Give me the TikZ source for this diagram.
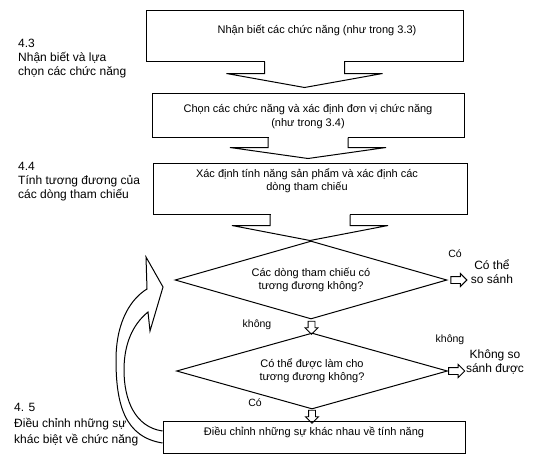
\documentclass[tikz,border=0pt]{standalone}
\usepackage{fontspec}
\setmainfont{Liberation Sans}
\usetikzlibrary{positioning,shapes.geometric,shapes.arrows}

\begin{document}
\begin{tikzpicture}[x=1pt, y=-1pt,
    box/.style={rectangle, draw, line width=1pt, inner sep=0pt},
    dia/.style={diamond, draw, line width=1pt, aspect=3.5, inner sep=1pt, align=center, font=\fontsize{11}{13}\selectfont},
    txt/.style={align=center, inner sep=0pt, font=\fontsize{11}{13.5}\selectfont},
    side/.style={align=left, inner sep=0pt, anchor=west, font=\fontsize{12}{14}\selectfont},
    lbl/.style={inner sep=0pt, font=\fontsize{10.5}{12}\selectfont},
    outcome/.style={align=center, inner xsep=4pt, inner ysep=0pt, font=\fontsize{12}{14}\selectfont},
    hollow/.style={single arrow, draw, line width=0.9pt, inner sep=3pt, single arrow head extend=3pt, minimum height=13pt}]
    \useasboundingbox (0,0) rectangle (554,455);

    % boxes and decisions
    \node[box, minimum width=317pt, minimum height=51pt] (box1) at (304.5,35.5) {};
    \node[box, minimum width=312pt, minimum height=44pt, below=31pt of box1, xshift=3.5pt] (box2) {};
    \node[box, minimum width=314pt, minimum height=51pt, below=25pt of box2, xshift=2pt] (box3) {};
    \node[dia, minimum width=272pt, minimum height=78pt, below=26pt of box3, xshift=1pt] (dia1) {Các dòng tham chiếu có\\tương đương không?};
    \node[dia, minimum width=271pt, minimum height=76pt, below=13pt of dia1, xshift=1pt] (dia2) {Có thể được làm cho\\tương đương không?};
    \node[box, minimum width=302pt, minimum height=32pt, below=11pt of dia2, xshift=2pt] (box4) {};

    \node[txt] (t1) at ([xshift=12.5pt,yshift=5.5pt]box1.center) {Nhận biết các chức năng (như trong 3.3)};
    \node[txt] (t2) at ([yshift=-1.5pt]box2.center) {Chọn các chức năng và xác định đơn vị chức năng\\(như trong 3.4)};
    \node[txt] (t3) at ([xshift=-3pt,yshift=8pt]box3.center) {Xác định tính năng sản phẩm và xác định các\\dòng tham chiếu};
    \node[txt] (t4) at ([yshift=5pt]box4.center) {Điều chỉnh những sự khác nhau về tính năng};

    % block arrows under the boxes
    \fill[white] (box1.south) ++(-39.5pt,0.6pt) rectangle ++(79pt,-3pt);
    \draw[line width=1pt] (box1.south) ++(-40pt,0pt) -- ++(0pt,-12pt) -- ++(-38pt,0pt) -- ++(78pt,-14pt) -- ++(78pt,14pt) -- ++(-38pt,0pt) -- ++(0pt,12pt);
    \fill[white] (box2.south) ++(-39.5pt,0.6pt) rectangle ++(79pt,-3pt);
    \draw[line width=1pt] (box2.south) ++(-40pt,0pt) -- ++(0pt,-10pt) -- ++(-38pt,0pt) -- ++(78pt,-11pt) -- ++(78pt,11pt) -- ++(-38pt,0pt) -- ++(0pt,10pt);
    \fill[white] (box3.south) ++(-39.5pt,0.6pt) rectangle ++(79pt,-3pt);
    \draw[line width=1pt] (box3.south) ++(-40pt,0pt) -- ++(0pt,-11pt) -- ++(-38pt,0pt) -- ++(78pt,-15pt) -- ++(78pt,15pt) -- ++(-38pt,0pt) -- ++(0pt,11pt);

    % outcomes
    \node[outcome] (yes) at (492,272) {Có thể\\so sánh};
    \node[outcome] (no) at (495,362) {Không so\\sánh được};
    \path (dia1.east) -- (yes.west |- dia1.east) node[hollow, midway, minimum height=16pt] (a1) {};
    \path (dia2.east) -- (no.west |- dia2.east) node[hollow, midway, minimum height=16pt] (a2) {};
    \path (dia1.south) -- (dia2.north) node[hollow, midway, shape border rotate=270] (a3) {};
    \path (dia2.south) -- (dia2.south |- box4.north) node[hollow, midway, shape border rotate=270] (a4) {};

    \node[lbl] (co1) at (455,254) {Có};
    \node[lbl] (khong1) at (450,340) {không};
    \node[lbl] (khong2) at (257,325) {không};
    \node[lbl] (co2) at (255,403) {Có};

    % side labels
    \node[side] (s43) at (18,59) {4.3\\Nhận biết và lựa\\chọn các chức năng};
    \node[side] (s44) at (18,181.5) {4.4\\Tính tương đương của\\các dòng tham chiếu};
    \node[side, font=\fontsize{12}{16}\selectfont] (s45) at (14,424.5) {4. 5\\Điều chỉnh những sự\\khác biệt về chức năng};

    % loop back
    \draw[line width=1pt] ([yshift=-6pt]box4.west) .. controls (125,437) and (116,405) .. (116,360)
        .. controls (116,320) and (132,298) .. (147,289) -- (146,257) -- (163,287) -- (150,331) -- (148,312)
        .. controls (132,325) and (124,345) .. (124,370) .. controls (124,400) and (135,427) .. ([yshift=6pt]box4.west);
\end{tikzpicture}
\end{document}
